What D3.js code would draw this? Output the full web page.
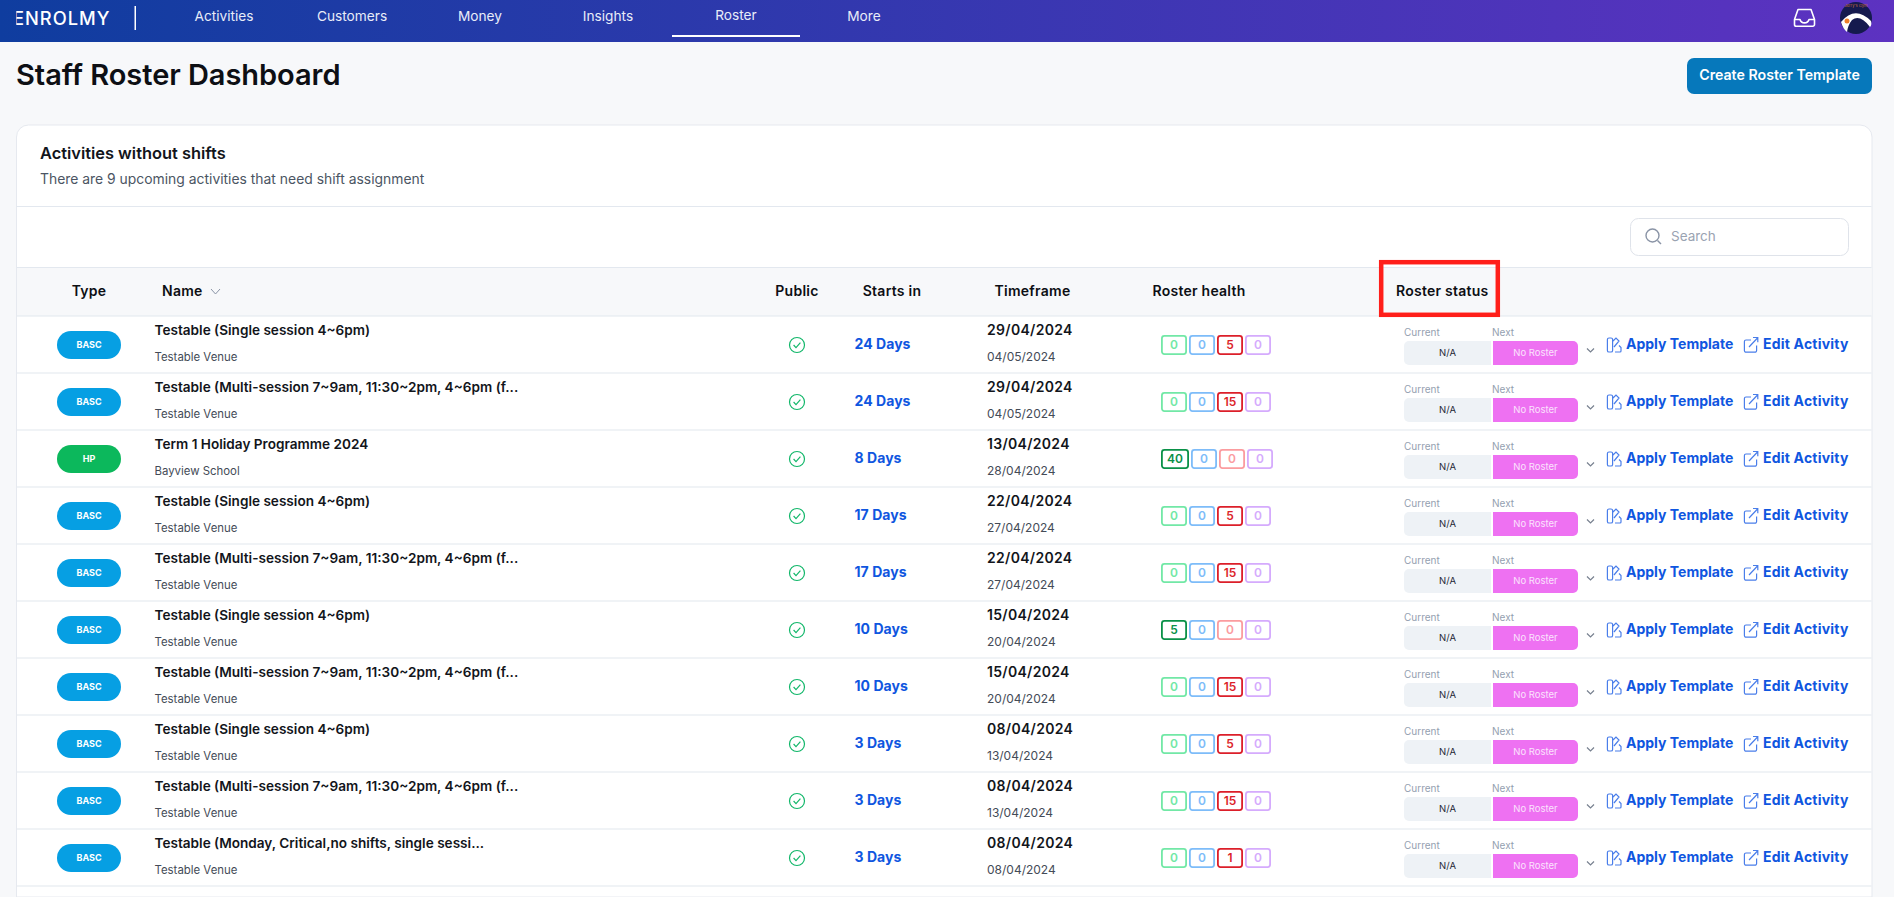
<!DOCTYPE html>
<html>
<head>
	<meta charset="utf-8">
	<title>Staff Roster Dashboard</title>
	<script src="https://d3js.org/d3.v7.min.js"></script>
	<style>
		html, body { margin: 0; padding: 0; background: #f7f8fa; overflow: hidden; }
		svg { display: block; }
		text { font-family: Inter, "Noto Sans", sans-serif; }
	</style>
</head>
<body>
	<div id="chart"></div>

	<script type="text/javascript">

var W = 1894, H = 897;

var single = "Testable (Single session 4~6pm)",
	multi = "Testable (Multi-session 7~9am, 11:30~2pm, 4~6pm (f...",
	venue = "Testable Venue";

/* one entry per table row: health = green, blue, red, purple */
var rows = [
	{type: "BASC", name: single, venue: venue, days: 24, from: "29/04/2024", to: "04/05/2024", health: [0, 0, 5, 0]},
	{type: "BASC", name: multi, venue: venue, days: 24, from: "29/04/2024", to: "04/05/2024", health: [0, 0, 15, 0]},
	{type: "HP", name: "Term 1 Holiday Programme 2024", venue: "Bayview School", days: 8, from: "13/04/2024", to: "28/04/2024", health: [40, 0, 0, 0]},
	{type: "BASC", name: single, venue: venue, days: 17, from: "22/04/2024", to: "27/04/2024", health: [0, 0, 5, 0]},
	{type: "BASC", name: multi, venue: venue, days: 17, from: "22/04/2024", to: "27/04/2024", health: [0, 0, 15, 0]},
	{type: "BASC", name: single, venue: venue, days: 10, from: "15/04/2024", to: "20/04/2024", health: [5, 0, 0, 0]},
	{type: "BASC", name: multi, venue: venue, days: 10, from: "15/04/2024", to: "20/04/2024", health: [0, 0, 15, 0]},
	{type: "BASC", name: single, venue: venue, days: 3, from: "08/04/2024", to: "13/04/2024", health: [0, 0, 5, 0]},
	{type: "BASC", name: multi, venue: venue, days: 3, from: "08/04/2024", to: "13/04/2024", health: [0, 0, 15, 0]},
	{type: "BASC", name: "Testable (Monday, Critical,no shifts, single sessi...", venue: venue, days: 3, from: "08/04/2024", to: "08/04/2024", health: [0, 0, 1, 0]}
];

var navItems = ["Activities", "Customers", "Money", "Insights", "Roster", "More"];

var columns = [
	{label: "Type", x: 89, anchor: "middle"},
	{label: "Name", x: 162, anchor: "start"},
	{label: "Public", x: 797, anchor: "middle"},
	{label: "Starts in", x: 892, anchor: "middle"},
	{label: "Timeframe", x: 1032.5, anchor: "middle"},
	{label: "Roster health", x: 1199, anchor: "middle"},
	{label: "Roster status", x: 1396, anchor: "start"}
];

/* empty colour and filled colour for each health box */
var healthColors = [
	{off: "#72e8a6", on: "#0a9148"},
	{off: "#7dbcf9", on: "#7dbcf9"},
	{off: "#fb9c9f", on: "#dc1f2a"},
	{off: "#d5abfd", on: "#d5abfd"}
];

var typeColor = d3.scaleOrdinal().domain(["BASC", "HP"]).range(["#069fe3", "#0cb85c"]);
var rowY = d3.scaleBand().domain(d3.range(rows.length)).range([316, 886]);
var navX = d3.scaleBand().domain(navItems).range([160, 928]);

var svg = d3.select("#chart").append("svg").attr("width", W).attr("height", H);

var grad = svg.append("defs").append("linearGradient").attr("id", "top");
grad.append("stop").attr("offset", "0%").attr("stop-color", "#0f3d9f");
grad.append("stop").attr("offset", "100%").attr("stop-color", "#5d32c1");

/* page background */
svg.append("rect").attr("width", W).attr("height", H).attr("fill", "#f7f8fa");

/* top bar */
svg.append("rect").attr("width", W).attr("height", 42).attr("fill", "url(#top)");
svg.append("text").attr("x", 13).attr("y", 19.5).attr("fill", "#fff")
	.attr("font-size", 18.3).attr("font-weight", 500).attr("letter-spacing", 1)
	.attr("dominant-baseline", "middle").text("ENROLMY");
/* the logo E has no stem */
svg.append("rect").attr("x", 12.5).attr("y", 11).attr("width", 3.8).attr("height", 16).attr("fill", "#0f3d9f");
svg.append("rect").attr("x", 134.5).attr("y", 6).attr("width", 1.5).attr("height", 24).attr("fill", "#fff");

svg.selectAll(".nav").data(navItems).enter().append("text")
	.attr("class", "nav")
	.attr("x", function(d) { return navX(d) + navX.bandwidth() / 2; })
	.attr("y", function(d) { return d == "Roster" ? 16.5 : 17.5; })
	.attr("text-anchor", "middle").attr("dominant-baseline", "middle")
	.attr("font-size", 13.7).attr("fill", "#e8ecf8").text(function(d) { return d; });
svg.append("rect").attr("x", navX("Roster")).attr("y", 35).attr("width", navX.bandwidth()).attr("height", 2).attr("fill", "#fff");

/* inbox icon */
var inbox = svg.append("g").attr("fill", "none").attr("stroke", "#fff").attr("stroke-width", 1.6).attr("stroke-linejoin", "round");
inbox.append("path").attr("d", "M1798 9.5h13l3.5 10v5a1.8 1.8 0 0 1-1.8 1.8h-16.4a1.8 1.8 0 0 1-1.8-1.8v-5z");
inbox.append("path").attr("d", "M1794.6 19.5h5.4q1 3.4 4.5 3.4t4.5-3.4h5.4");

/* avatar */
svg.append("circle").attr("cx", 1856).attr("cy", 18).attr("r", 16).attr("fill", "#151a4e");
svg.append("path").attr("d", "M1841 22Q1855 5 1871 21Q1872 25 1870 27Q1860 14 1852 20Q1848 25 1847 32Q1843 29 1841 22Z").attr("fill", "#fff");
svg.append("circle").attr("cx", 1847).attr("cy", 21).attr("r", 2.5).attr("fill", "#ef7f2a");
svg.append("text").attr("x", 1856).attr("y", 7).attr("text-anchor", "middle").attr("font-size", 4).attr("fill", "#c96a3a").text("Jerry's Gym");

/* title and button */
svg.append("text").attr("x", 16).attr("y", 77).attr("dominant-baseline", "middle")
	.attr("font-size", 29).attr("font-weight", 600).attr("letter-spacing", -0.05).attr("fill", "#0d0f14").text("Staff Roster Dashboard");
svg.append("rect").attr("x", 1687).attr("y", 58).attr("width", 185).attr("height", 36).attr("rx", 7).attr("fill", "#0678bb");
svg.append("text").attr("x", 1779.5).attr("y", 76).attr("text-anchor", "middle").attr("dominant-baseline", "middle")
	.attr("font-size", 14.2).attr("font-weight", 600).attr("fill", "#fff").text("Create Roster Template");

/* card */
svg.append("path").attr("d", "M16.5 " + H + "V137a12 12 0 0 1 12-12H1860a12 12 0 0 1 12 12V" + H + "Z")
	.attr("fill", "#fff").attr("stroke", "#e6e9ef");
svg.append("text").attr("x", 40).attr("y", 154.5).attr("dominant-baseline", "middle")
	.attr("font-size", 16.4).attr("font-weight", 600).attr("fill", "#12151b").text("Activities without shifts");
svg.append("text").attr("x", 40).attr("y", 180).attr("dominant-baseline", "middle")
	.attr("font-size", 13.9).attr("fill", "#4b5563").text("There are 9 upcoming activities that need shift assignment");
svg.append("rect").attr("x", 16.5).attr("y", 206).attr("width", 1855).attr("height", 1).attr("fill", "#e3e8ef");

/* search */
svg.append("rect").attr("x", 1630.5).attr("y", 218.5).attr("width", 218).attr("height", 37).attr("rx", 8)
	.attr("fill", "#fff").attr("stroke", "#dfe3ea");
var lens = svg.append("g").attr("fill", "none").attr("stroke", "#8a94a6").attr("stroke-width", 1.4);
lens.append("circle").attr("cx", 1652.5).attr("cy", 235.5).attr("r", 6.5);
lens.append("path").attr("d", "M1657.5 240.5l3.5 3.5");
svg.append("text").attr("x", 1671).attr("y", 237).attr("dominant-baseline", "middle")
	.attr("font-size", 13.5).attr("fill", "#9aa3b2").text("Search");

/* table head */
svg.append("rect").attr("x", 17).attr("y", 267).attr("width", 1854.5).attr("height", 49).attr("fill", "#f7f8fa");
svg.append("rect").attr("x", 17).attr("y", 267).attr("width", 1854.5).attr("height", 1).attr("fill", "#e3e8ef");
svg.selectAll(".col").data(columns).enter().append("text")
	.attr("class", "col")
	.attr("x", function(d) { return d.x; }).attr("y", 292.5)
	.attr("text-anchor", function(d) { return d.anchor; }).attr("dominant-baseline", "middle")
	.attr("font-size", 14).attr("font-weight", 600).attr("letter-spacing", 0.25).attr("fill", "#0d0f14")
	.text(function(d) { return d.label; });
svg.append("path").attr("d", "M211 289l4.5 5 4.5-5").attr("fill", "none").attr("stroke", "#8a94a6");

/* rows */
var row = svg.selectAll(".row").data(rows).enter().append("g")
	.attr("class", "row")
	.attr("transform", function(d, i) { return "translate(0," + rowY(i) + ")"; });

row.append("rect").attr("x", 17).attr("y", -0.5).attr("width", 1854.5).attr("height", 1).attr("fill", "#e2e7ee");

row.append("rect").attr("x", 57).attr("y", 15).attr("width", 64).attr("height", 28).attr("rx", 14)
	.attr("fill", function(d) { return typeColor(d.type); });
row.append("text").attr("x", 89).attr("y", 29.5).attr("text-anchor", "middle").attr("dominant-baseline", "middle")
	.attr("font-size", 9).attr("font-weight", 700).attr("fill", "#fff").text(function(d) { return d.type; });

row.append("text").attr("x", 154.5).attr("y", 15).attr("dominant-baseline", "middle")
	.attr("font-size", 13.6).attr("font-weight", 600).attr("fill", "#12151b").text(function(d) { return d.name; });
row.append("text").attr("x", 154.5).attr("y", 42).attr("dominant-baseline", "middle")
	.attr("font-size", 11.4).attr("fill", "#444b57").text(function(d) { return d.venue; });

/* public tick */
row.append("circle").attr("cx", 797).attr("cy", 29).attr("r", 7.5)
	.attr("fill", "none").attr("stroke", "#12b76a").attr("stroke-width", 1.2);
row.append("path").attr("d", "M793.6 29l2.4 2.6 4.4-5").attr("fill", "none").attr("stroke", "#12b76a").attr("stroke-width", 1.2);

row.append("text").attr("x", 854.5).attr("y", 29).attr("dominant-baseline", "middle")
	.attr("font-size", 14).attr("font-weight", 700).attr("letter-spacing", 0.05).attr("fill", "#0f56e0")
	.text(function(d) { return d.days + " Days"; });

row.append("text").attr("x", 987).attr("y", 15).attr("dominant-baseline", "middle")
	.attr("font-size", 14).attr("font-weight", 600).attr("letter-spacing", 0.3).attr("fill", "#12151b").text(function(d) { return d.from; });
row.append("text").attr("x", 987).attr("y", 42).attr("dominant-baseline", "middle")
	.attr("font-size", 12).attr("fill", "#444b57").text(function(d) { return d.to; });

/* roster health boxes, the 40 box is a bit wider and pushes the rest along */
row.each(function(d) {
	var x = 1161;
	var box = d3.select(this).selectAll(".box").data(d.health).enter().append("g").attr("class", "box")
		.attr("transform", function(v) {
			var t = "translate(" + x + ",0)";
			x += (v >= 40 ? 28 : 26) + 2;
			return t;
		});
	box.append("rect").attr("x", 0.9).attr("y", 19.9)
		.attr("width", function(v) { return (v >= 40 ? 28 : 26) - 1.8; }).attr("height", 18.2).attr("rx", 2.5)
		.attr("fill", "#fff").attr("stroke-width", 1.8)
		.attr("stroke", function(v, i) { return v ? healthColors[i].on : healthColors[i].off; });
	box.append("text").attr("x", function(v) { return (v >= 40 ? 28 : 26) / 2; }).attr("y", 29.5)
		.attr("text-anchor", "middle").attr("dominant-baseline", "middle")
		.attr("font-size", 12).attr("font-weight", 600)
		.attr("fill", function(v, i) { return v ? healthColors[i].on : healthColors[i].off; })
		.text(function(v) { return v; });
});

/* roster status */
row.append("text").attr("x", 1404).attr("y", 17).attr("dominant-baseline", "middle")
	.attr("font-size", 10).attr("fill", "#94a0b0").text("Current");
row.append("text").attr("x", 1492).attr("y", 17).attr("dominant-baseline", "middle")
	.attr("font-size", 10).attr("fill", "#94a0b0").text("Next");
row.append("path").attr("d", "M1409 25h82v24h-82a5 5 0 0 1-5-5v-14a5 5 0 0 1 5-5z").attr("fill", "#eef2f6");
row.append("path").attr("d", "M1493 25h80a5 5 0 0 1 5 5v14a5 5 0 0 1-5 5h-80z").attr("fill", "#ee71f2");
row.append("text").attr("x", 1447.5).attr("y", 37.5).attr("text-anchor", "middle").attr("dominant-baseline", "middle")
	.attr("font-size", 9.5).attr("fill", "#1f2937").text("N/A");
row.append("text").attr("x", 1535.5).attr("y", 37.5).attr("text-anchor", "middle").attr("dominant-baseline", "middle")
	.attr("font-size", 9.5).attr("fill", "#fbe3fd").text("No Roster");
row.append("path").attr("d", "M1587 32.5l3.5 3.5 3.5-3.5").attr("fill", "none").attr("stroke", "#77808f").attr("stroke-width", 1.2);

/* apply template / edit activity links */
row.append("path").attr("d", "M1611 22h-2a1.6 1.6 0 0 0-1.6 1.6v10.8a1.6 1.6 0 0 0 1.6 1.6h2a1.6 1.6 0 0 0 1.6-1.6v-10.8a1.6 1.6 0 0 0-1.6-1.6zM1613 25l3-3 3 3-5 6M1615 36h5a1 1 0 0 0 1-1v-3.500l-2-2")
	.attr("fill", "none").attr("stroke", "#4a7eea").attr("stroke-width", 1.2);
row.append("text").attr("x", 1626).attr("y", 29).attr("dominant-baseline", "middle")
	.attr("font-size", 14).attr("font-weight", 700).attr("fill", "#0f56e0").text("Apply Template");
row.append("path").attr("d", "M1751 24h-5a1.600 1.600 0 0 0-1.600 1.600v9a1.600 1.600 0 0 0 1.600 1.600h9a1.600 1.600 0 0 0 1.600-1.600v-5M1749 31l8.500-9M1753 21.500h4.800v4.800")
	.attr("fill", "none").attr("stroke", "#4a7eea").attr("stroke-width", 1.2);
row.append("text").attr("x", 1763).attr("y", 29).attr("dominant-baseline", "middle")
	.attr("font-size", 14).attr("font-weight", 700).attr("letter-spacing", 0.2).attr("fill", "#0f56e0").text("Edit Activity");

/* closing line under the last row */
svg.append("rect").attr("x", 17).attr("y", 885.5).attr("width", 1854.5).attr("height", 1).attr("fill", "#e2e7ee");

/* red highlight round the Roster status head */
svg.append("rect").attr("x", 1381.2).attr("y", 262.2).attr("width", 116.6).attr("height", 52.6)
	.attr("fill", "none").attr("stroke", "#ff1f1a").attr("stroke-width", 4.5);

</script>
</body>
</html>
